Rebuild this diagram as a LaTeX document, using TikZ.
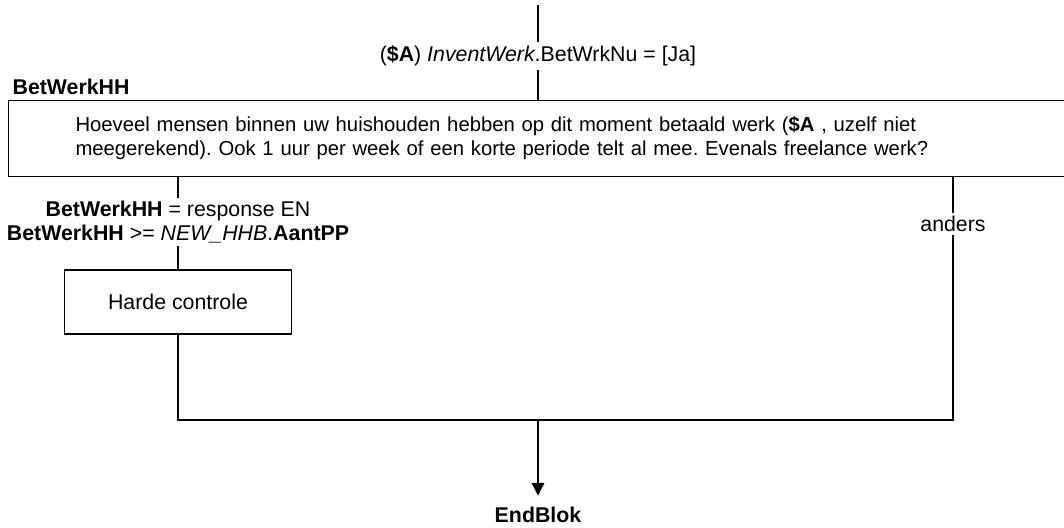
\documentclass[tikz,border=0pt]{standalone}
\usepackage{fontspec}
\setmainfont{Liberation Sans}
\usetikzlibrary{arrows.meta}
\begin{document}
\frenchspacing
\begin{tikzpicture}[x=0.75pt,y=-0.75pt,
  every node/.style={font=\fontsize{16}{17.5}\selectfont, inner sep=2.5pt},
  conn/.style={line width=0.8pt, draw=black},
  boxst/.style={draw=black, line width=0.8pt, rectangle},
  arr/.style={conn, -{Triangle[width=9.5pt,length=9.5pt]}}
]
\useasboundingbox (0,0) rectangle (1064,528);

\coordinate (top) at (538,5);
\node (cond) at (538,56) {(\textbf{\$A}) \textit{InventWerk}.BetWrkNu = [Ja]};
\node[anchor=west, font=\fontsize{16}{17.5}\selectfont\bfseries] (qname) at (9,87) {BetWerkHH};

\node[boxst, anchor=north west, minimum width=796.5pt, minimum height=57pt,
      text width=696pt, inner xsep=50pt, inner ysep=0pt, align=left,
      font=\fontsize{15.2}{18}\selectfont] (q) at (8,100)
  {Hoeveel mensen binnen uw huishouden hebben op dit moment betaald werk (\textbf{\$A} , uzelf niet\\
   meegerekend). Ook 1 uur per week of een korte periode telt al mee. Evenals freelance werk?};

\coordinate (lb) at (178,176);
\node[align=center] (lc) at (178,222)
  {\textbf{BetWerkHH} = response EN\\ \textbf{BetWerkHH} >= \textit{NEW\_HHB}.\textbf{AantPP}};
\node[boxst, minimum width=170.25pt, minimum height=48pt] (hc) at (178,302) {Harde controle};

\coordinate (rt) at (953,176);
\node (an) at (953,224) {anders};

\coordinate (j) at (178,420);
\coordinate (cj) at (538,420);
\coordinate (rj) at (953,420);
\node[font=\fontsize{16}{17.5}\selectfont\bfseries, inner ysep=8.5pt] (eb) at (538,515) {EndBlok};

\draw[conn] (top) -- (cond.north);
\draw[conn] (cond.south) -- (cond.south |- q.north);
\draw[conn] (lb) -- (lc.north);
\draw[conn] (lc.south) -- (hc.north);
\draw[conn] (hc.south) -- (j) -- (rj) -- (an.south);
\draw[conn] (an.north) -- (rt);
\draw[arr] (cj) -- (eb.north);
\end{tikzpicture}
\end{document}
